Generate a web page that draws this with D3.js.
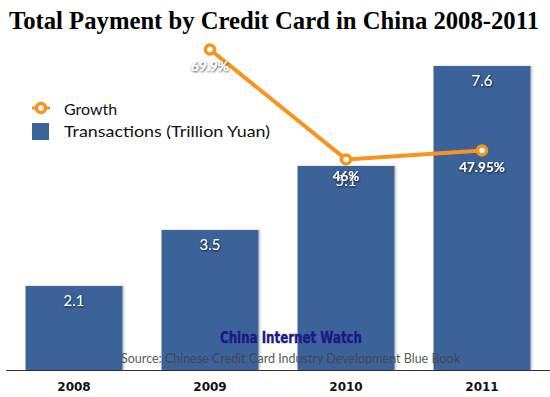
<!DOCTYPE html>
<html>
<head>
<meta charset="utf-8">
<title>Total Payment by Credit Card in China</title>
<script src="https://d3js.org/d3.v7.min.js"></script>
<style>
  body { margin: 0; background: #fff; }
  svg { display: block; }
</style>
</head>
<body>
<div id="chart"></div>
<script>
// data
const years = ["2008", "2009", "2010", "2011"];
const transactions = [2.1, 3.5, 5.1, 7.6];
const growthYears = ["2009", "2010", "2011"];
const growth = [69.9, 46, 47.95];
const growthLabels = ["69.9%", "46%", "47.95%"];

const width = 550, height = 397;
const baseY = 370;
const barColor = "#3b6499";
const orange = "#f7941d";

const svg = d3.select("#chart").append("svg")
  .attr("width", width)
  .attr("height", height);

const defs = svg.append("defs");
const shadow = defs.append("filter").attr("id", "shadow")
  .attr("x", "-10%").attr("y", "-10%").attr("width", "130%").attr("height", "130%");
shadow.append("feDropShadow")
  .attr("dx", 1.5).attr("dy", 0).attr("stdDeviation", 1)
  .attr("flood-color", "#000").attr("flood-opacity", 0.25);
const txtShadow = defs.append("filter").attr("id", "txtShadow")
  .attr("x", "-20%").attr("y", "-30%").attr("width", "140%").attr("height", "160%");
txtShadow.append("feDropShadow")
  .attr("dx", 0.5).attr("dy", 1).attr("stdDeviation", 0.8)
  .attr("flood-color", "#000").attr("flood-opacity", 0.8);

// scales
const x = d3.scaleBand()
  .domain(years)
  .range([6, 550])
  .paddingInner(0.287)
  .paddingOuter(0.1435);

const y = d3.scaleLinear().domain([0, 8]).range([baseY, 50]);
const y2 = d3.scaleLinear().domain([0, 80]).range([371, 3]);

// title
svg.append("text")
  .attr("x", 274).attr("y", 29)
  .attr("text-anchor", "middle")
  .attr("font-family", "'Liberation Serif', 'DejaVu Serif', serif")
  .attr("font-weight", "bold")
  .attr("font-size", 25)
  .attr("textLength", 530)
  .attr("lengthAdjust", "spacingAndGlyphs")
  .attr("fill", "#000")
  .text("Total Payment by Credit Card in China 2008-2011");

// bars
svg.append("g").selectAll("rect")
  .data(transactions)
  .join("rect")
  .attr("x", (d, i) => x(years[i]))
  .attr("y", d => y(d))
  .attr("width", x.bandwidth())
  .attr("height", d => baseY - y(d))
  .attr("fill", barColor)
  .attr("filter", "url(#shadow)");

svg.append("g").selectAll("text")
  .data(transactions)
  .join("text")
  .attr("x", (d, i) => x(years[i]) + x.bandwidth() / 2)
  .attr("y", d => y(d) + 20)
  .attr("text-anchor", "middle")
  .attr("font-family", "Lato, 'Open Sans', sans-serif")
  .attr("font-size", 15)
  .attr("fill", "#fff")
  .attr("filter", "url(#txtShadow)")
  .text(d => d3.format(".1f")(d));

// watermark + source
svg.append("text")
  .attr("x", 291).attr("y", 343)
  .attr("text-anchor", "middle")
  .attr("font-family", "'DejaVu Sans Condensed', 'DejaVu Sans', sans-serif")
  .attr("font-weight", "bold")
  .attr("font-size", 16)
  .attr("textLength", 142)
  .attr("lengthAdjust", "spacingAndGlyphs")
  .attr("fill", "#1a1a85")
  .attr("stroke", "#1a1a85")
  .attr("stroke-width", 0.4)
  .text("China Internet Watch");

svg.append("text")
  .attr("x", 121).attr("y", 363)
  .attr("font-family", "Lato, 'Open Sans', sans-serif")
  .attr("font-size", 12.5)
  .attr("textLength", 339)
  .attr("lengthAdjust", "spacingAndGlyphs")
  .attr("fill", "#444")
  .attr("fill-opacity", 0.9)
  .text("Source: Chinese Credit Card Industry Development Blue Book");

// axis
const xAxis = svg.append("g")
  .attr("transform", `translate(0,${baseY})`)
  .call(d3.axisBottom(x).tickSize(0).tickPadding(12));
xAxis.select(".domain").attr("stroke", "#333").attr("d", "M6,0.5H550");
xAxis.selectAll("text")
  .attr("font-family", "'DejaVu Sans', sans-serif")
  .attr("font-weight", "bold")
  .attr("font-size", 12)
  .attr("fill", "#111");

// growth line
const line = d3.line()
  .x((d, i) => x(growthYears[i]) + x.bandwidth() / 2)
  .y(d => y2(d));

svg.append("path")
  .datum(growth)
  .attr("d", line)
  .attr("fill", "none")
  .attr("stroke", orange)
  .attr("stroke-width", 4);

svg.append("g").selectAll("circle")
  .data(growth)
  .join("circle")
  .attr("cx", (d, i) => x(growthYears[i]) + x.bandwidth() / 2)
  .attr("cy", d => y2(d))
  .attr("r", 4.5)
  .attr("fill", "#fff")
  .attr("stroke", orange)
  .attr("stroke-width", 3.5);

svg.append("g").selectAll("text")
  .data(growth)
  .join("text")
  .attr("x", (d, i) => x(growthYears[i]) + x.bandwidth() / 2)
  .attr("y", d => y2(d) + 22)
  .attr("text-anchor", "middle")
  .attr("font-family", "Lato, 'Open Sans', sans-serif")
  .attr("font-weight", "bold")
  .attr("font-size", 13.5)
  .attr("fill", "#fff")
  .attr("filter", "url(#txtShadow)")
  .text((d, i) => growthLabels[i]);

// legend
const legend = svg.append("g");
legend.append("line")
  .attr("x1", 32).attr("x2", 50).attr("y1", 108).attr("y2", 108)
  .attr("stroke", orange).attr("stroke-width", 3);
legend.append("circle")
  .attr("cx", 41).attr("cy", 108).attr("r", 4.5)
  .attr("fill", "#fff").attr("stroke", orange).attr("stroke-width", 3.5);
legend.append("text")
  .attr("x", 64).attr("y", 115)
  .attr("font-family", "Lato, 'Open Sans', sans-serif")
  .attr("font-size", 16)
  .attr("fill", "#111")
  .text("Growth");
legend.append("rect")
  .attr("x", 32).attr("y", 123).attr("width", 17).attr("height", 17)
  .attr("fill", barColor);
legend.append("text")
  .attr("x", 64).attr("y", 137)
  .attr("font-family", "Lato, 'Open Sans', sans-serif")
  .attr("font-size", 16)
  .attr("textLength", 206)
  .attr("lengthAdjust", "spacingAndGlyphs")
  .attr("fill", "#111")
  .text("Transactions (Trillion Yuan)");
</script>
</body>
</html>
